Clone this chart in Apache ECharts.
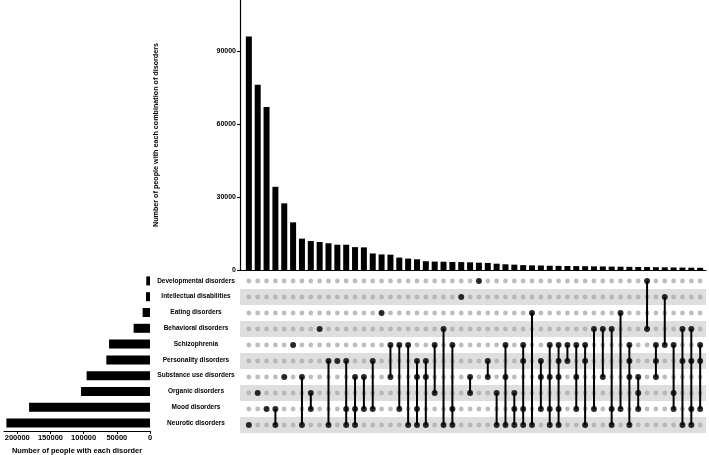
<!DOCTYPE html>
<html>
<head>
<meta charset="utf-8">
<script src="https://cdn.jsdelivr.net/npm/echarts@6/dist/echarts.min.js"></script>
<style>
html,body{margin:0;padding:0;background:#fff;}
#chart{width:709px;height:455px;}
</style>
</head>
<body>
<div id="chart"></div>
<script>
// Sets, listed top to bottom as in the matrix
const setNames = ['Developmental disorders','Intellectual disabilities','Eating disorders','Behavioral disorders','Schizophrenia','Personality disorders','Substance use disorders','Organic disorders','Mood disorders','Neurotic disorders'];
const setCodes = ['D','I','E','B','S','P','U','O','M','N'];
// Number of people with each disorder
const setSizes = [5600, 6000, 11100, 24700, 61700, 65800, 95500, 103900, 182200, 216400];
// Combinations (letters = set codes above), in plotted order
const comboSets = ['N','O','M','MN','U','S','UN','OM','B','PN','P','PMN','UMN','UM','PM','E','SU','SM','SN','PUMN','PUN','SO','BN','SMN','I','UO','D','PU','ON','SUN','OMN','SPMN','EN','PUM','SUMN','SPUMN','SP','SUM','SPN','BM','BU','BMN','EM','SPUN','UOM','DB','SPU','IS','SOM','BPN','BPMN','SPM'];
// Number of people with each combination
const comboCounts = [96000, 76200, 67000, 34200, 27400, 19600, 12900, 11900, 11500, 11000, 10400, 10400, 9400, 9300, 6800, 6400, 6300, 5100, 4700, 4400, 3600, 3450, 3400, 3300, 3250, 3150, 3000, 2900, 2600, 2350, 2200, 2000, 1900, 1850, 1750, 1700, 1650, 1600, 1550, 1500, 1450, 1400, 1350, 1300, 1250, 1200, 1150, 1100, 1050, 1000, 950, 900];
const topTicks = [0, 30000, 60000, 90000];
const leftTicks = [0, 50000, 100000, 150000, 200000];

const FONT = 'Liberation Sans, Arial, sans-serif';
const plain = v => String(v);

const barData = comboCounts.map((v, i) => [i, v]);
const greyDots = [];
const blackDots = [];
const connectors = [];
comboSets.forEach((code, i) => {
  const rows = [];
  setCodes.forEach((c, r) => {
    greyDots.push([i, r]);
    if (code.indexOf(c) >= 0) { blackDots.push([i, r]); rows.push(r); }
  });
  if (rows.length > 1) connectors.push([i, Math.min(...rows), Math.max(...rows)]);
});

const X_MIN = -1, X_MAX = 51.66;
const chart = echarts.init(document.getElementById('chart'), null, {renderer: 'canvas'});
chart.setOption({
  animation: false,
  backgroundColor: '#fff',
  grid: [
    {left: 240, top: 0, width: 466, height: 270},
    {left: 240, top: 273, width: 466, height: 160},
    {left: 4, top: 273, width: 146, height: 160}
  ],
  xAxis: [
    {gridIndex: 0, type: 'value', min: X_MIN, max: X_MAX, axisLine: {show: true, onZero: false, lineStyle: {color: '#000', width: 1.2}}, axisTick: {show: false}, axisLabel: {show: false}, splitLine: {show: false}},
    {gridIndex: 1, type: 'value', min: X_MIN, max: X_MAX, show: false},
    {gridIndex: 2, type: 'value', inverse: true, min: 0, max: 220000,
      axisLine: {show: true, onZero: false, lineStyle: {color: '#000', width: 1}},
      axisTick: {show: true, length: 3, lineStyle: {color: '#000'}, customValues: leftTicks},
      axisLabel: {color: '#000', fontFamily: FONT, fontSize: 7.5, fontWeight: 'bold', margin: 3, customValues: leftTicks, formatter: plain},
      splitLine: {show: false},
      name: 'Number of people with each disorder', nameLocation: 'middle', nameGap: 16,
      nameTextStyle: {color: '#000', fontFamily: FONT, fontSize: 7.4, fontWeight: 'bold'}
    }
  ],
  yAxis: [
    {gridIndex: 0, type: 'value', min: 0, max: 111000,
      axisLine: {show: true, onZero: false, lineStyle: {color: '#000', width: 1.2}},
      axisTick: {show: true, length: 3, lineStyle: {color: '#000'}, customValues: topTicks},
      axisLabel: {color: '#000', fontFamily: FONT, fontSize: 7, fontWeight: 'bold', margin: 4, customValues: topTicks, formatter: plain},
      splitLine: {show: false},
      name: 'Number of people with each combination of disorders', nameLocation: 'middle', nameGap: 80, nameRotate: 90,
      nameTextStyle: {color: '#000', fontFamily: FONT, fontSize: 7.2, fontWeight: 'bold'}
    },
    {gridIndex: 1, type: 'category', inverse: true, data: setNames,
      axisLine: {show: false}, axisTick: {show: false}, axisLabel: {show: false},
      splitArea: {show: true, areaStyle: {color: ['rgba(255,255,255,0)', '#dedede']}}
    },
    {gridIndex: 2, type: 'category', inverse: true, position: 'right', data: setNames,
      axisLine: {show: false}, axisTick: {show: false},
      axisLabel: {color: '#000', fontFamily: FONT, fontSize: 6.5, fontWeight: 'bold', align: 'center', margin: 46}
    }
  ],
  series: [
    {type: 'bar', xAxisIndex: 0, yAxisIndex: 0, data: barData, barWidth: 6, itemStyle: {color: '#000'}},
    {type: 'scatter', xAxisIndex: 1, yAxisIndex: 1, data: greyDots, symbolSize: 4.8, itemStyle: {color: '#adadad'}, z: 2},
    {type: 'custom', xAxisIndex: 1, yAxisIndex: 1, data: connectors, z: 3,
      encode: {x: 0, y: [1, 2]},
      renderItem: function (params, api) {
        const p1 = api.coord([api.value(0), api.value(1)]);
        const p2 = api.coord([api.value(0), api.value(2)]);
        return {type: 'line', shape: {x1: p1[0], y1: p1[1], x2: p2[0], y2: p2[1]}, style: {stroke: '#000', lineWidth: 2}};
      }
    },
    {type: 'scatter', xAxisIndex: 1, yAxisIndex: 1, data: blackDots, symbolSize: 6, itemStyle: {color: '#000'}, z: 4},
    {type: 'bar', xAxisIndex: 2, yAxisIndex: 2, data: setSizes, barWidth: 9, itemStyle: {color: '#000'}}
  ]
});
</script>
</body>
</html>
